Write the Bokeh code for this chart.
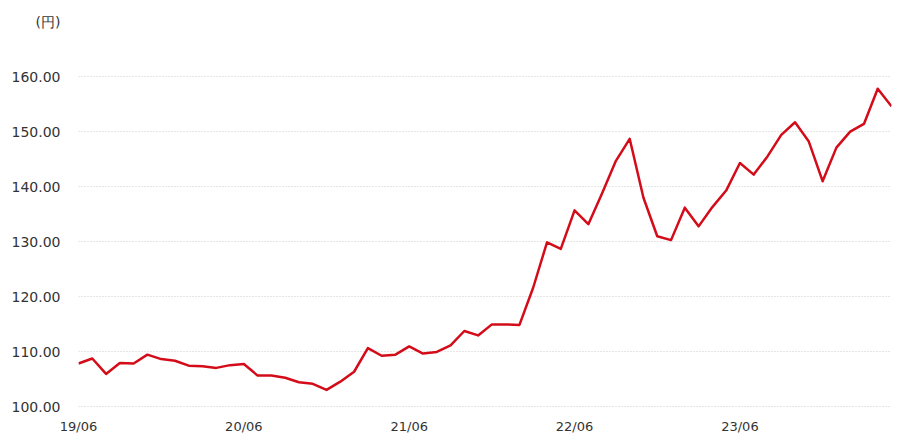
from bokeh.plotting import figure
from bokeh.models import Range1d, FixedTicker, ColumnDataSource
from bokeh.embed import file_html
from bokeh.resources import INLINE

months = [
    "19/06","19/07","19/08","19/09","19/10","19/11","19/12",
    "20/01","20/02","20/03","20/04","20/05","20/06","20/07","20/08","20/09","20/10","20/11","20/12",
    "21/01","21/02","21/03","21/04","21/05","21/06","21/07","21/08","21/09","21/10","21/11","21/12",
    "22/01","22/02","22/03","22/04","22/05","22/06","22/07","22/08","22/09","22/10","22/11","22/12",
    "23/01","23/02","23/03","23/04","23/05","23/06","23/07","23/08","23/09","23/10","23/11","23/12",
    "24/01","24/02","24/03","24/04","24/05",
]
rates = [
    107.9, 108.8, 106.0, 108.0, 107.9, 109.5, 108.7,
    108.4, 107.5, 107.4, 107.1, 107.6, 107.8, 105.7, 105.7, 105.3, 104.5, 104.2, 103.1,
    104.6, 106.4, 110.7, 109.3, 109.5, 111.0, 109.7, 110.0, 111.2, 113.8, 113.0, 115.0,
    115.0, 114.9, 121.7, 129.9, 128.7, 135.7, 133.2, 138.8, 144.7, 148.7, 138.0, 131.0,
    130.3, 136.2, 132.8, 136.3, 139.3, 144.3, 142.2, 145.5, 149.4, 151.7, 148.2, 141.0,
    147.1, 150.0, 151.4, 157.8, 154.6,
]
x_tick_labels = ["19/06", "20/06", "21/06", "22/06", "23/06"]
y_ticks = [100, 110, 120, 130, 140, 150, 160, 170]
y_tick_labels = ["100.00", "110.00", "120.00", "130.00", "140.00", "150.00", "160.00", "(円)"]

idx = list(range(len(months)))
src = ColumnDataSource(dict(x=idx, y=rates, m=months))

p = figure(width=898, height=441, output_backend="svg", toolbar_location=None,
           x_range=Range1d(0, len(months) - 1), y_range=Range1d(99, 170),
           min_border_left=78, min_border_right=7, min_border_top=21, min_border_bottom=29)
p.outline_line_color = None
p.background_fill_color = "white"
p.border_fill_color = "white"

p.line("x", "y", source=src, line_color="#d40c19", line_width=2.5, line_join="round")

x_pos = [months.index(t) for t in x_tick_labels]
p.xaxis.ticker = FixedTicker(ticks=x_pos)
p.xaxis.major_label_overrides = {i: t for i, t in zip(x_pos, x_tick_labels)}
p.yaxis.ticker = FixedTicker(ticks=y_ticks)
p.yaxis.major_label_overrides = {v: t for v, t in zip(y_ticks, y_tick_labels)}

for ax in (p.xaxis, p.yaxis):
    ax.axis_line_color = None
    ax.major_tick_line_color = None
    ax.minor_tick_line_color = None
    ax.major_tick_in = 0
    ax.major_tick_out = 0
    ax.major_label_text_font = "DejaVu Sans"
    ax.major_label_text_color = "#333333"
p.xaxis.major_label_text_font_size = "13px"
p.yaxis.major_label_text_font_size = "14px"
p.yaxis.major_label_standoff = 18
p.xaxis.major_label_standoff = 6

p.xgrid.grid_line_color = None
p.ygrid.ticker = FixedTicker(ticks=y_ticks)
p.ygrid.grid_line_color = "#cccccc"
p.ygrid.grid_line_dash = "1 2"
p.ygrid.grid_line_width = 1

open("out.html", "w").write(file_html(p, INLINE))
